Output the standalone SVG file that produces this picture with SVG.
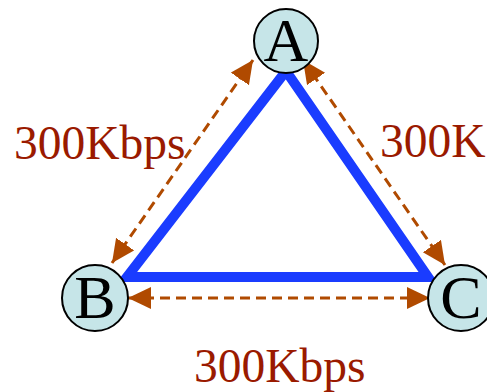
<svg xmlns="http://www.w3.org/2000/svg" width="487" height="392" viewBox="0 0 487 392">
<style>
.node circle{fill:#c6e5e8;stroke:#000;stroke-width:2}
.node text{font-family:"Liberation Serif","Times New Roman",serif;font-size:62px;fill:#000;text-anchor:middle}
.lbl{font-family:"Liberation Serif","Times New Roman",serif;font-size:47.5px;fill:#9a1a00}
.dash{stroke:#b04a00;stroke-width:3;stroke-dasharray:10 6;fill:none;marker-start:url(#ah);marker-end:url(#ah)}
.tri{stroke:#1a3cff;stroke-width:10;fill:none;stroke-linecap:butt;stroke-linejoin:miter}
</style>
<defs>
<marker id="ah" markerUnits="userSpaceOnUse" markerWidth="26" markerHeight="24" refX="23" refY="11" orient="auto-start-reverse" viewBox="0 0 26 24">
<path d="M0 0 L23 11 L0 22 Z" fill="#b04a00"/>
</marker>
</defs>
<g id="connectors">
<path class="tri" d="M286 71 L127 277 L428 277 L286 71"/>
<line class="dash" x1="112" y1="263" x2="253" y2="60"/>
<line class="dash" x1="303" y1="60" x2="445" y2="265"/>
<line class="dash" x1="128" y1="298" x2="430" y2="298"/>
</g>
<g id="labels">
<text class="lbl" x="14" y="159">300Kbps</text>
<text class="lbl" x="380" y="157">300K</text>
<text class="lbl" x="194" y="382">300Kbps</text>
</g>
<g id="A" class="node"><circle cx="286" cy="41" r="32"/><text x="286" y="61">A</text></g>
<g id="B" class="node"><circle cx="95" cy="298" r="33"/><text x="95" y="318">B</text></g>
<g id="C" class="node"><circle cx="461" cy="298" r="33"/><text x="461" y="318">C</text></g>
</svg>
